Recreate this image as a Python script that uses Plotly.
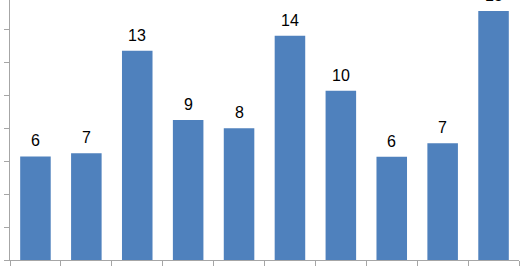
import plotly.graph_objects as go

categories = ["Cat 1", "Cat 2", "Cat 3", "Cat 4", "Cat 5", "Cat 6", "Cat 7", "Cat 8", "Cat 9", "Cat 10"]
values = [6.28, 6.47, 12.68, 8.48, 7.98, 13.6, 10.26, 6.26, 7.07, 15.09]
labels = ["6", "7", "13", "9", "8", "14", "10", "6", "7", "15"]

fig = go.Figure()
fig.add_trace(go.Bar(
    x=categories, y=values,
    marker=dict(color="#4f81bd", line=dict(width=0)),
    width=0.6,
    hoverinfo="skip",
))

for c, v, t in zip(categories, values, labels):
    fig.add_annotation(x=c, y=v, text=t, showarrow=False, yanchor="bottom",
                       yshift=5, font=dict(family="Liberation Sans, Arial", size=16, color="#000000"))

fig.update_layout(
    width=522, height=267,
    margin=dict(l=10, r=3, t=0, b=7),
    paper_bgcolor="white", plot_bgcolor="white",
    showlegend=False,
    bargap=0.4,
)
fig.update_xaxes(
    type="category", categoryorder="array", categoryarray=categories,
    showline=True, linecolor="#a6a6a6", linewidth=1,
    ticks="outside", ticklen=5, tickcolor="#a6a6a6", tickson="boundaries",
    showticklabels=False, showgrid=False, zeroline=False,
)
fig.update_yaxes(
    range=[0, 15.76], showline=True, linecolor="#a6a6a6", linewidth=1,
    ticks="outside", ticklen=5, tickcolor="#a6a6a6", dtick=2, tick0=0,
    showticklabels=False, showgrid=False, zeroline=False,
)

fig.write_html("out.html")
